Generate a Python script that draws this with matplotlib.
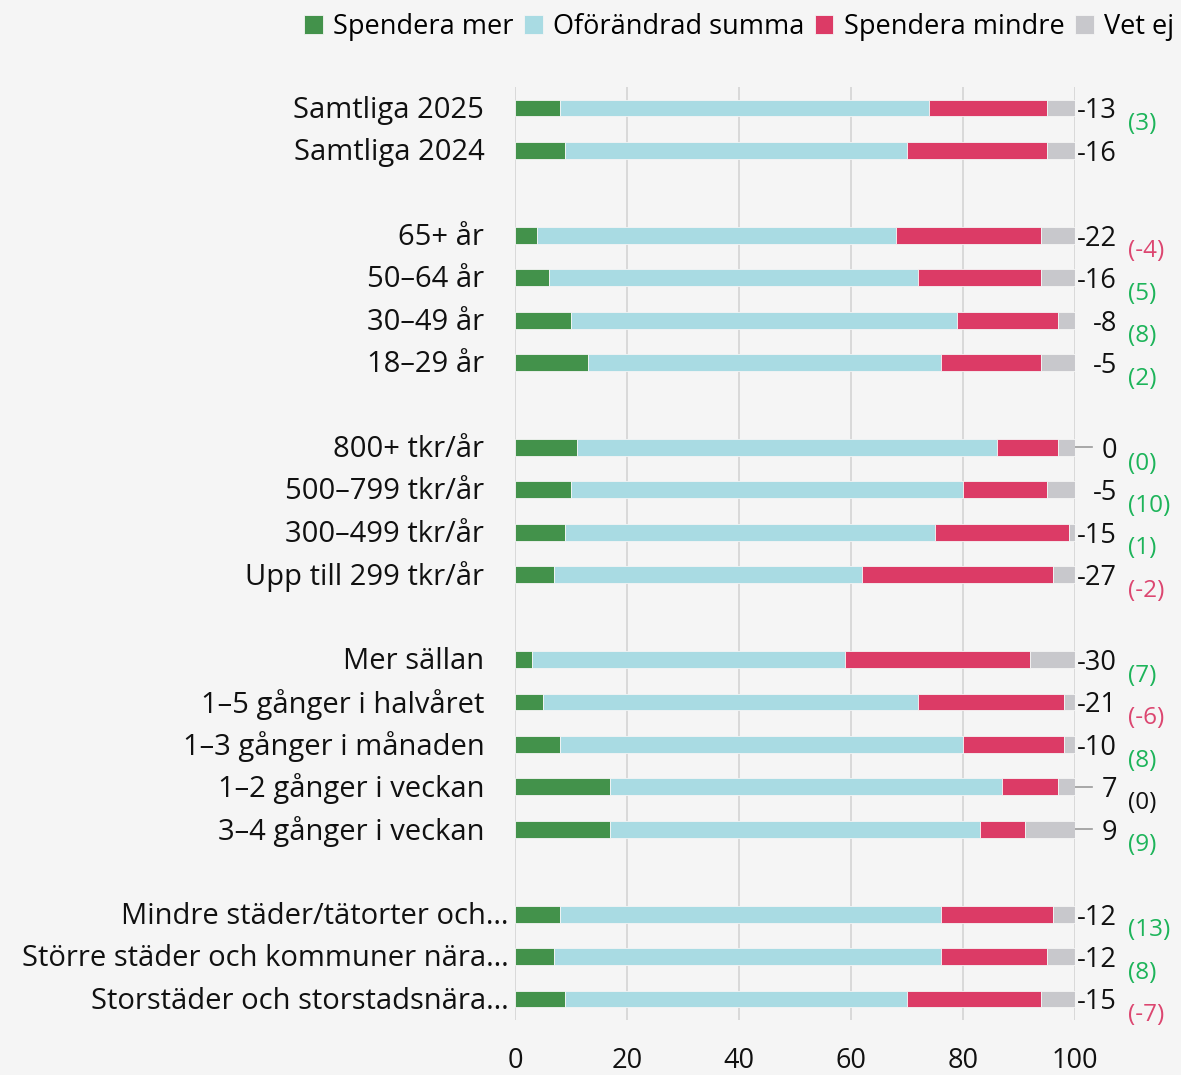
import numpy as np
import matplotlib.pyplot as plt
import matplotlib.transforms as mtransforms

plt.rcParams['font.family'] = ['Open Sans', 'DejaVu Sans']

# rows top to bottom, None = spacer row between groups
categories = [
    "Samtliga 2025", "Samtliga 2024", None,
    "65+ år", "50–64 år", "30–49 år", "18–29 år", None,
    "800+ tkr/år", "500–799 tkr/år", "300–499 tkr/år", "Upp till 299 tkr/år", None,
    "Mer sällan", "1–5 gånger i halvåret", "1–3 gånger i månaden",
    "1–2 gånger i veckan", "3–4 gånger i veckan", None,
    "Mindre städer/tätorter och…", "Större städer och kommuner nära…",
    "Storstäder och storstadsnära…",
]
spend_more = [8, 9, None, 4, 6, 10, 13, None, 11, 10, 9, 7, None,
              3, 5, 8, 17, 17, None, 8, 7, 9]
unchanged = [66, 61, None, 64, 66, 69, 63, None, 75, 70, 66, 55, None,
             56, 67, 72, 70, 66, None, 68, 69, 61]
spend_less = [21, 25, None, 26, 22, 18, 18, None, 11, 15, 24, 34, None,
              33, 26, 18, 10, 8, None, 20, 19, 24]
dont_know = [5, 5, None, 6, 6, 3, 6, None, 3, 5, 1, 4, None,
             8, 2, 2, 3, 9, None, 4, 5, 6]
net = [-13, -16, None, -22, -16, -8, -5, None, 0, -5, -15, -27, None,
       -30, -21, -10, 7, 9, None, -12, -12, -15]
change = [3, None, None, -4, 5, 8, 2, None, 0, 10, 1, -2, None,
          7, -6, 8, 0, 9, None, 13, 8, -7]
change_neutral = [False] * 22
change_neutral[16] = True

series_names = ["Spendera mer", "Oförändrad summa", "Spendera mindre", "Vet ej"]
colors = ["#43924b", "#a9dbe3", "#dc3b66", "#c8c8cc"]
bg = "#f5f5f5"

fig = plt.figure(figsize=(11.81, 10.75), dpi=100, facecolor=bg)
ax = fig.add_axes([515 / 1181, 1 - 1020.2 / 1075, 560 / 1181, (1020.2 - 86.8) / 1075])
ax.set_facecolor(bg)

rows = [i for i, c in enumerate(categories) if c is not None]
y = np.array(rows)
series = [spend_more, unchanged, spend_less, dont_know]
left = np.zeros(len(rows))
for name, vals, col in zip(series_names, series, colors):
    v = np.array([vals[i] for i in rows], dtype=float)
    ax.barh(y, v, left=left, height=0.4, color=col, label=name,
            edgecolor=bg, linewidth=0.6, zorder=3)
    left += v

ax.set_xlim(0, 100)
ax.set_ylim(len(categories) - 0.5, -0.5)
ax.set_xticks([0, 20, 40, 60, 80, 100])
ax.tick_params(axis='x', length=0, pad=19, labelsize=19.5, colors='#111111')
ax.set_yticks([])
ax.grid(axis='x', color='#d9d9d9', linewidth=1.4, zorder=0)
for s in ax.spines.values():
    s.set_visible(False)

ylab = mtransforms.blended_transform_factory(ax.transAxes, ax.transData)
for i in rows:
    lab = categories[i]
    xoff = 0.0 if lab.endswith("…") else -24 / 560
    ax.text(-0.012 + xoff, i + 0.05, lab, transform=ylab, ha='right', va='center',
            fontsize=21, color='#111111')

    ax.text(107.5, i + 0.08, str(net[i]), ha='right', va='center',
            fontsize=19.5, color='#111111', clip_on=False)
    if net[i] >= 0:
        ax.plot([100, 103], [i, i], color='#9a9a9a', lw=1.2, clip_on=False)

    if change[i] is not None:
        if change_neutral[i]:
            c = '#111111'
        elif change[i] < 0:
            c = '#dc4670'
        else:
            c = '#1db45a'
        ax.text(109.5, i + 0.38, f"({change[i]})", ha='left', va='center',
                fontsize=17.5, color=c, clip_on=False)

fig.legend(loc='upper right', bbox_to_anchor=(1.008, 1.003), ncol=4,
           frameon=False, fontsize=19.5, handlelength=0.68, handleheight=0.68,
           handletextpad=0.38, columnspacing=0.4, borderaxespad=0.2)

fig.savefig("out.png", dpi=100, facecolor=bg)
